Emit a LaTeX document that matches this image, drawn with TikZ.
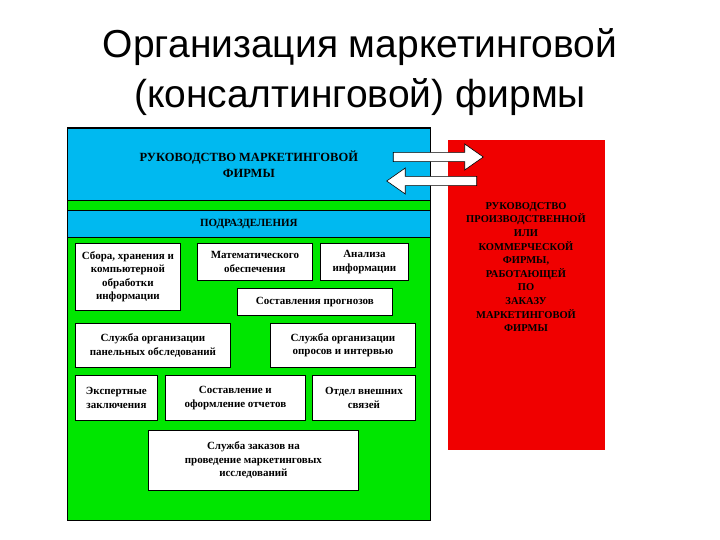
\documentclass[tikz,border=0pt]{standalone}
\usepackage{fontspec}
\setmainfont{Liberation Serif}
\newfontfamily\titlefont{Liberation Sans}
\usetikzlibrary{shapes.arrows}
\definecolor{cy}{RGB}{0,185,240}
\definecolor{gr}{RGB}{0,230,0}
\definecolor{rd}{RGB}{240,0,0}
\begin{document}
\begin{tikzpicture}[x=1pt,y=-1pt,
 wb/.style={draw=black,line width=0.8pt,fill=white,align=center,font=\bfseries\fontsize{11}{13.5}\selectfont,inner sep=1pt},
 arr/.style={single arrow,draw=black,fill=white,line width=0.6pt,minimum height=90pt,minimum width=26pt,single arrow head extend=6pt,inner sep=3pt,single arrow tip angle=70}]
\useasboundingbox (0,0) rectangle (720,540);
\node[font=\titlefont\fontsize{39}{50}\selectfont,align=center] (title) at (360,72) {Организация маркетинговой\\(консалтинговой) фирмы};
\draw[fill=gr,line width=1pt] (67,128) rectangle (430,520);
\node[draw,line width=0.6pt,fill=cy,minimum width=363pt,minimum height=72pt,anchor=north west,inner sep=0pt,align=center,font=\bfseries\fontsize{12.5}{16}\selectfont] (top) at (67,128) {РУКОВОДСТВО МАРКЕТИНГОВОЙ\\ФИРМЫ};
\node[draw,line width=0.6pt,fill=cy,minimum width=363pt,minimum height=27pt,anchor=north west,inner sep=0pt,font=\bfseries\fontsize{11}{13}\selectfont] (sub) at (67,210) {ПОДРАЗДЕЛЕНИЯ};
\node[fill=rd,minimum width=157pt,minimum height=310pt,anchor=north west,inner sep=0pt] (red) at (448,140) {};
\node[align=center,font=\bfseries\fontsize{10.5}{13.6}\selectfont] (redt) at (526,267) {РУКОВОДСТВО\\ПРОИЗВОДСТВЕННОЙ\\ИЛИ\\КОММЕРЧЕСКОЙ\\ФИРМЫ,\\РАБОТАЮЩЕЙ\\ПО\\ЗАКАЗУ\\МАРКЕТИНГОВОЙ\\ФИРМЫ};
\node[arr] (a1) at (435,157) {};
\node[arr,shape border rotate=180] (a2) at (435,181) {};
\newcommand{\bx}[6]{\node[wb,minimum width=#4pt-#2pt,minimum height=#5pt-#3pt,anchor=north west] (#1) at (#2,#3) {#6};}
\bx{b1}{75}{243}{180}{310}{Сбора, хранения и\\компьютерной\\обработки\\информации}
\bx{b2}{197}{243}{312}{280}{Математического\\обеспечения}
\bx{b3}{320}{243}{408}{280}{Анализа\\информации}
\bx{b4}{237}{288}{392}{315}{Составления прогнозов}
\bx{b5}{75}{323}{230}{367}{Служба организации\\панельных обследований}
\bx{b6}{270}{323}{415}{367}{Служба организации\\опросов и интервью}
\bx{b7}{75}{375}{157}{420}{Экспертные\\заключения}
\bx{b8}{165}{375}{305}{420}{Составление и\\оформление отчетов}
\bx{b9}{312}{375}{415}{420}{Отдел внешних\\связей}
\bx{b10}{148}{430}{358}{490}{Служба заказов на\\проведение маркетинговых\\исследований}
\end{tikzpicture}
\end{document}
